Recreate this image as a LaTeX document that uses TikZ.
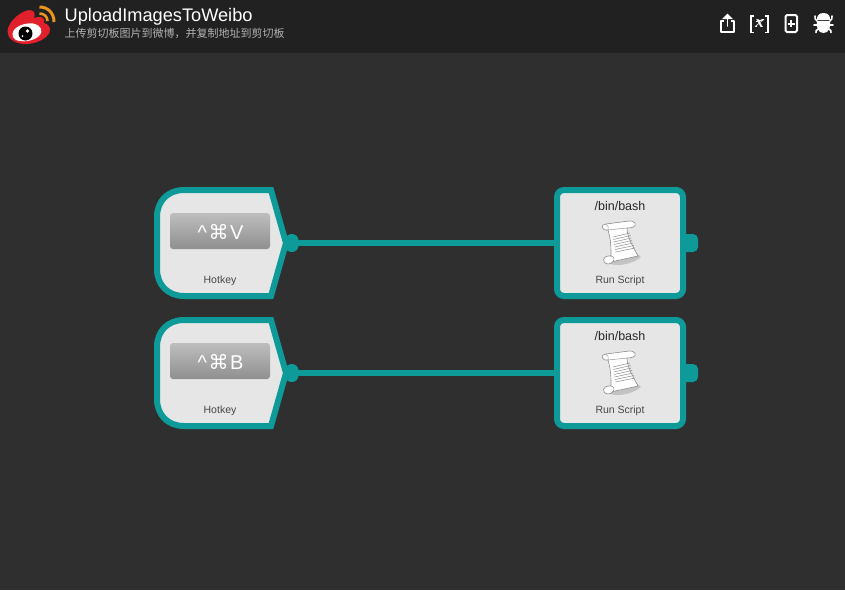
\documentclass[tikz,border=0pt]{standalone}
\usepackage{fontspec}
\setmainfont{Liberation Sans}
\newfontfamily\cjkf{Noto Sans CJK SC}
\newfontfamily\symf{DejaVu Sans}
\newfontfamily\serf{Liberation Serif}
\definecolor{teal1}{HTML}{0E9A98}
\definecolor{bgmain}{HTML}{2F2F2F}
\definecolor{bghead}{HTML}{212121}
\definecolor{nodefill}{HTML}{E6E6E6}
\definecolor{KeyTop}{HTML}{BEBEBE}
\definecolor{KeyBot}{HTML}{8F8F8F}
\definecolor{wbred}{HTML}{E2202C}
\definecolor{wborange}{HTML}{EA961C}
\tikzset{
  x=1pt,y=-1pt,
  wire/.style={line width=6pt,teal1},
  bodybox/.style={draw=teal1,line width=6pt,fill=nodefill},
  portdot/.style={fill=teal1},
  keybtn/.style={rounded corners=3pt,top color=KeyTop,bottom color=KeyBot,draw=none},
  lbl/.style={inner sep=0,font=\fontsize{10.5}{12}\selectfont,text=black!72},
  cmdlbl/.style={inner sep=0,font=\fontsize{12.5}{14}\selectfont,text=black!85},
  keylbl/.style={inner sep=0,text=white,font=\fontsize{20}{22}\selectfont},
  hdicon/.style={draw=white,line width=1.9pt,fill=none},
  pics/scroll/.style={code={
    \fill[black!40,opacity=.45] (-10,21) .. controls (0,24) and (14,20) .. (21,14) -- (14,8) -- (-10,15) -- cycle;
    \draw[black!45,fill=white,line width=.6pt,line join=round]
      (-14,-19) .. controls (-20,-19) and (-19,-12) .. (-12,-13)
      .. controls (-9,-3) and (-9,5) .. (-9,13)
      .. controls (-18,12) and (-19,20) .. (-12,21)
      .. controls (-10,21) and (-8,20) .. (-7,18.5)
      -- (18,13)
      .. controls (14,5) and (7,-5) .. (7,-15)
      .. controls (11,-15) and (17,-16) .. (15,-20)
      .. controls (14,-22) and (11,-22) .. (9,-22)
      -- (-14,-19) -- cycle;
    \draw[black!40,line width=.5pt] (-12,-13) -- (7,-15);
    \draw[black!40,line width=.5pt] (-14,-19) .. controls (-12,-18) and (-11,-15) .. (-12,-13);
    \draw[black!45,line width=.5pt] (-7,18.5) .. controls (-5,16) and (-6,13.5) .. (-9,13);
    \foreach \xa/\xb/\ya/\yb in {-7/10/-6/-10,-6.7/10.7/-3.5/-7.5,-6.4/11.4/-1/-5,-6/12/1.5/-2.5,-5.5/13/4/0,-5/14/6.5/2.5,-4.5/15/9/5}
      \draw[black!42,line width=.55pt] (\xa,\ya) -- (\xb,\yb);
  }}
}
\begin{document}
\begin{tikzpicture}
\useasboundingbox (0,0) rectangle (845,590);
\fill[bgmain] (0,0) rectangle (845,590);
\fill[bghead] (0,0) rectangle (845,53);
% weibo logo
\fill[wbred] (7.5,31) .. controls (8,23) and (18,13) .. (27,10.5)
  .. controls (34,9) and (36,13) .. (34,18)
  .. controls (40,15.5) and (46,17) .. (44,23)
  .. controls (51,25) and (52,31) .. (47,36)
  .. controls (41,42) and (31,44.5) .. (23,44)
  .. controls (14,43) and (7,38) .. (7.5,31) -- cycle;
\fill[white] (12.5,34) .. controls (13,27) and (24,22.5) .. (33,23.5) .. controls (41,25) and (44,31) .. (39,36)
  .. controls (33,41.5) and (22,42.5) .. (16,40) .. controls (13,38.5) and (12.5,36) .. (12.5,34) -- cycle;
\fill[black] (25.5,33.5) circle (7);
\fill[white] (27.5,31) circle (1.8);
\fill[white] (22.5,36) circle (1);
\draw[wborange,line width=3pt] (39.5,7) .. controls (48,7) and (54,13) .. (54,22);
\draw[wborange,line width=2.6pt] (39.5,13.5) .. controls (44,13.5) and (47.5,16.5) .. (47.5,21);
% title
\node[anchor=west,inner sep=0,text=white,font=\fontsize{18.2}{20}\selectfont] (title) at (64.5,16.5) {UploadImagesToWeibo};
\node[anchor=west,inner sep=0,text=black!30,font=\cjkf\fontsize{11}{13}\selectfont] (sub) at (64.5,33.5) {上传剪切板图片到微博，并复制地址到剪切板};
% header icons
\draw[hdicon,line join=round] (724,21) -- (721,21) -- (721,32) -- (734,32) -- (734,21) -- (731,21);
\draw[hdicon,line cap=round] (727.5,26) -- (727.5,16);
\fill[white] (727.5,13.5) -- (732.8,19) -- (722.2,19) -- cycle;
\draw[hdicon,line width=1.6pt] (754,16) -- (751,16) -- (751,32.5) -- (754,32.5);
\draw[hdicon,line width=1.6pt] (765,16) -- (768,16) -- (768,32.5) -- (765,32.5);
\node[inner sep=0,text=white,font=\serf\bfseries\itshape\fontsize{17}{18}\selectfont] (xv) at (759.5,23.5) {x};
\draw[white,line width=1pt] (756,21.5) -- (764,19.5);
\draw[hdicon,rounded corners=1.5pt,line width=2pt] (785.5,15) rectangle (797,32);
\draw[white,line width=2pt] (787.5,23.5) -- (795,23.5) (791.2,19.8) -- (791.2,27.2);
% bug
\fill[white] (823.5,13) .. controls (819,13) and (816.5,16) .. (817,20) -- (830,20) .. controls (830.5,16) and (828,13) .. (823.5,13) -- cycle;
\fill[white] (823.5,33) .. controls (818,33) and (816,27) .. (817,21) -- (830,21) .. controls (831,27) and (829,33) .. (823.5,33) -- cycle;
\draw[white,line width=1.6pt,line cap=round]
  (817,21) .. controls (815,20) and (815,18) .. (815,16)
  (830,21) .. controls (832,20) and (832,18) .. (832,16)
  (817,25) -- (814,25)
  (830,25) -- (833,25)
  (818,29) .. controls (816,30) and (816,31) .. (816,32.5)
  (829,29) .. controls (831,30) and (831,31) .. (831,32.5);
% rows
\foreach \dy/\key/\n in {0/V/1,130/B/2}{
  \begin{scope}[yshift=-\dy pt]
  \draw[bodybox,miter limit=10] (271,190) -- (286,243) -- (271,296) -- (184,296)
    .. controls (168,296) and (157,285) .. (157,269) -- (157,217)
    .. controls (157,201) and (168,190) .. (184,190) -- cycle;
  \fill[portdot,rounded corners=6.5pt] (285,234) rectangle (298.5,252);
  \path[keybtn] (170,213) rectangle (270,249);
  \node[keylbl] (key\n) at (220.5,231.5) {\^{}\hspace{1.5pt}{\symf⌘}\hspace{1.5pt}\key};
  \node[lbl] (hot\n) at (220,280.5) {Hotkey};
  \coordinate (out\n) at (297,243);
  \fill[portdot,rounded corners=5pt] (675,234) rectangle (698,252);
  \draw[bodybox,rounded corners=7pt] (557,190) rectangle (683,296);
  \coordinate (in\n) at (555,243);
  \node[cmdlbl] (cmd\n) at (620,206) {/bin/bash};
  \pic at (620,243) {scroll};
  \node[lbl] (run\n) at (620,280.5) {Run Script};
  \draw[wire] (out\n) -- (in\n);
  \end{scope}
}
\end{tikzpicture}
\end{document}
